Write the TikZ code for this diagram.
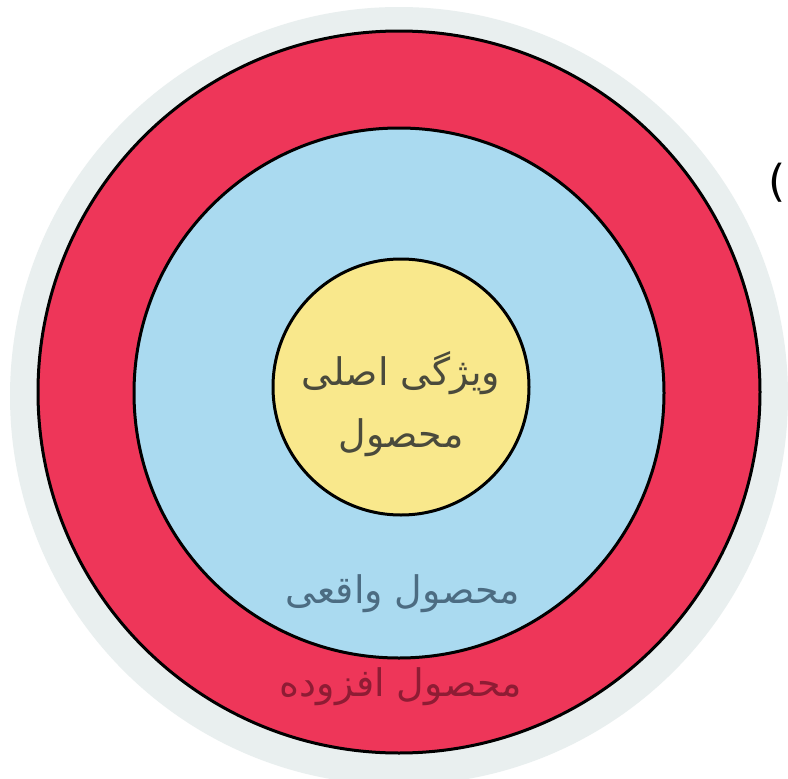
\documentclass[tikz,border=0pt]{standalone}
\usepackage{fontspec}
\TeXXeTstate=1
\newfontfamily\arabicfont[Script=Arabic]{DejaVu Sans}
\newfontfamily\parenfont{DejaVu Sans}
\definecolor{discgrey}{HTML}{E9EFEF}
\definecolor{ringred}{HTML}{EE3659}
\definecolor{ringblue}{HTML}{AADAF0}
\definecolor{coreyellow}{HTML}{F9E88C}
\definecolor{txtyellow}{HTML}{4A4A3C}
\definecolor{txtblue}{HTML}{4C6C82}
\definecolor{txtred}{HTML}{8E1C34}
\tikzset{
  ring/.style={draw=black, line width=3pt},
  lbl/.style={font=\arabicfont\fontsize{38}{62}\selectfont, align=center}
}
\begin{document}
\begin{tikzpicture}[x=1pt,y=-1pt]
\useasboundingbox (0,0) rectangle (788,779);
\fill[white] (0,0) rectangle (788,779);
\fill[discgrey] (399,396) circle (389);
\node[ring, circle, fill=ringred, minimum size=722pt, inner sep=0pt] (red) at (399,392) {};
\node[ring, circle, fill=ringblue, minimum size=530pt, inner sep=0pt] (blue) at (399,393) {};
\node[ring, circle, fill=coreyellow, minimum size=256pt, inner sep=0pt] (yellow) at (401,387) {};
\node[lbl, text=txtyellow] (core) at (401,404) {\beginR ویژگی اصلی\endR\\\beginR محصول\endR};
\node[lbl, text=txtblue] (actual) at (403,594) {\beginR محصول واقعی\endR};
\node[lbl, text=txtred] (augmented) at (401,687) {\beginR محصول افزوده\endR};
\node[font=\parenfont\fontsize{44}{44}\selectfont, anchor=west, inner sep=0pt] (paren) at (768,183) {(};
\end{tikzpicture}
\end{document}
